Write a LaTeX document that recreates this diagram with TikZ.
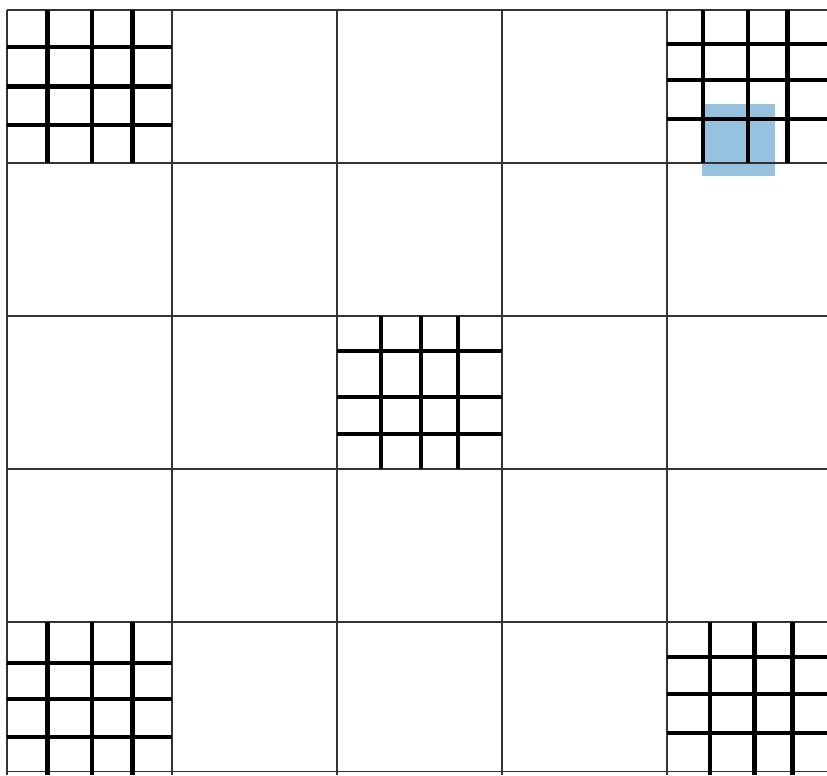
\documentclass[tikz,border=0pt]{standalone}
\definecolor{markblue}{HTML}{96C2DF}
\begin{document}
\begin{tikzpicture}[x={(3.3cm,0)}, y={(0,-3.06cm)},
    gridline/.style={line width=0.6pt, black!80},
    barline/.style={line width=2.4pt, black}]
  \clip (-0.0424,-0.0654) rectangle (4.9697,5.0);
  % highlighted square
  \fill[markblue] (4.212,0.614) rectangle (4.655,1.085);
  % thin grid
  \foreach \i in {0,...,4}{
    \draw[gridline] (\i,0) -- (\i,5);
    \draw[gridline] (0,\i) -- (5,\i);
  }
  \draw[gridline] (0,4.98) -- (5,4.98);
  % thick bars in five cells
  \foreach \c/\r/\va/\vb/\vc/\ha/\hb/\hc in {0/0/.245/.515/.76/.24/.5/.75, 4/0/.22/.49/.73/.22/.46/.71, 2/2/.265/.51/.735/.23/.53/.77, 0/4/.245/.515/.76/.27/.505/.75, 4/4/.26/.53/.76/.23/.47/.725}{
    \foreach \v in {\va,\vb,\vc}
      \draw[barline] (\c+\v,\r) -- (\c+\v,\r+1);
    \foreach \h in {\ha,\hb,\hc}
      \draw[barline] (\c,\r+\h) -- (\c+1,\r+\h);
  }
\end{tikzpicture}
\end{document}
